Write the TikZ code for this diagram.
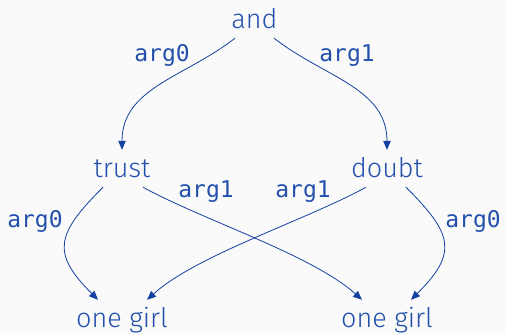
\documentclass[tikz,border=0pt]{standalone}
\usepackage{fontspec}
\setmainfont{Fira Sans Light}
\setmonofont{DejaVu Sans Mono}
\usetikzlibrary{arrows.meta,calc}
\definecolor{bg}{RGB}{250,250,250}
\definecolor{txt}{RGB}{34,80,172}
\definecolor{ln}{RGB}{20,64,162}
\tikzset{
  word/.style={text=txt, font=\fontsize{27}{30}\selectfont, anchor=base, inner xsep=0pt, inner ysep=7pt, text height=20pt, text depth=3pt},
  lab/.style={text=txt, font=\ttfamily\fontsize{23}{26}\selectfont, anchor=base, inner sep=0pt},
  edge/.style={draw=ln, line width=0.8pt, -{Triangle[length=9pt,width=7.5pt]}}
}
\begin{document}
\begin{tikzpicture}[x=1pt,y=-1pt]
\fill[bg] (0,0) rectangle (505,335);
\useasboundingbox (0,0) rectangle (505,335);
\node[word] (and) at (254.5,28) {and};
\node[word] (trust) at (122,177) {trust};
\node[word] (doubt) at (387,177) {doubt};
\node[word] (girlL) at (122,327) {one girl};
\node[word] (girlR) at (387,327) {one girl};
\node[lab] (l1) at (162,61) {arg0};
\node[lab] (l2) at (347,61) {arg1};
\node[lab] (l3) at (206,197) {arg1};
\node[lab] (l4) at (303,197) {arg1};
\node[lab] (l5) at (35,227) {arg0};
\node[lab] (l6) at (473,227) {arg0};
\draw[edge] ([xshift=-19.5pt]and.south) .. controls +(-50,39) and +(0,-62) .. (trust.north);
\draw[edge] ([xshift=19.5pt]and.south) .. controls +(50,39) and +(0,-62) .. (doubt.north);
\draw[edge] ([xshift=-19pt]trust.south) .. controls +(-47,47) and +(-47,-47) .. ([xshift=-24pt]girlL.north);
\draw[edge] ([xshift=21pt]trust.south) .. controls +(60,33) and +(-50,-45) .. ([xshift=-25pt]girlR.north);
\draw[edge] ([xshift=-21pt]doubt.south) .. controls +(-60,33) and +(50,-45) .. ([xshift=25pt]girlL.north);
\draw[edge] ([xshift=19pt]doubt.south) .. controls +(47,47) and +(47,-47) .. ([xshift=24pt]girlR.north);
\end{tikzpicture}
\end{document}
